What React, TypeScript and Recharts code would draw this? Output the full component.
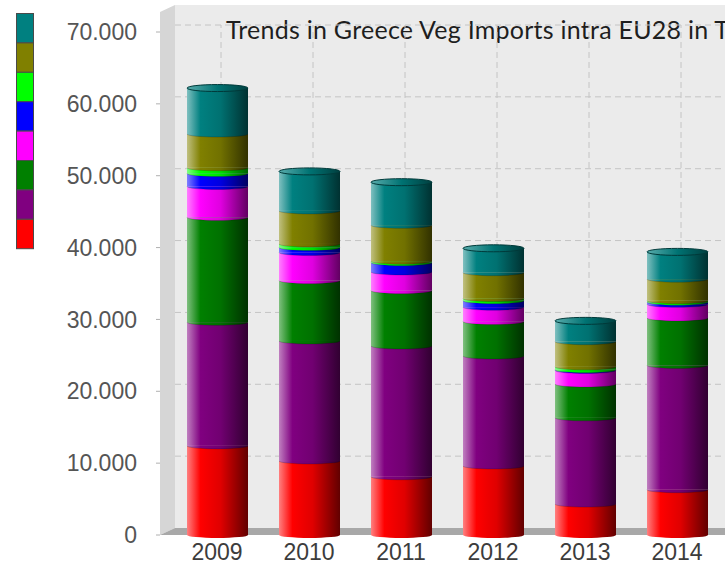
import { BarChart, Bar, XAxis, YAxis, ReferenceLine } from "recharts"

const YEARS = ["2009", "2010", "2011", "2012", "2013", "2014"]

// stacked from the floor up
const RED = [12400, 10300, 8100, 9600, 4300, 6300]
const PURPLE = [17200, 16700, 18200, 15300, 12000, 17300]
const GREEN = [14600, 8400, 7700, 4800, 4700, 6600]
const MAGENTA = [4300, 3900, 2600, 2000, 1900, 1900]
const BLUE = [1800, 700, 1300, 900, 100, 300]
const LIME = [800, 500, 200, 300, 400, 200]
const OLIVE = [4700, 4600, 5000, 3600, 3500, 3000]
const TEAL = [6400, 5500, 6000, 3400, 2900, 3800]

const Y_TICKS = [0, 10000, 20000, 30000, 40000, 50000, 60000, 70000]

const TITLE = "Trends in Greece Veg Imports intra EU28 in Tonnes"

const SERIES = [
  { key: "red", values: RED, color: "#ff0000" },
  { key: "purple", values: PURPLE, color: "#800080" },
  { key: "green", values: GREEN, color: "#008000" },
  { key: "magenta", values: MAGENTA, color: "#ff00ff" },
  { key: "blue", values: BLUE, color: "#0000ff" },
  { key: "lime", values: LIME, color: "#00ff00" },
  { key: "olive", values: OLIVE, color: "#808000" },
  { key: "teal", values: TEAL, color: "#008080" },
]

const data = YEARS.map((year, i) => {
  const row: Record<string, string | number> = { year }
  SERIES.forEach((s) => (row[s.key] = s.values[i]))
  return row
})

const AXIS_FONT = "'Liberation Sans', Arial, sans-serif"

function mix(hex: string, target: number, t: number) {
  const n = parseInt(hex.slice(1), 16)
  const c = [(n >> 16) & 255, (n >> 8) & 255, n & 255].map((v) => Math.round(v + (target - v) * t))
  return `rgb(${c[0]},${c[1]},${c[2]})`
}

function cylinder(key: string, color: string, isTop: boolean, isBottom: boolean) {
  return (p: any) => {
    const { x, y, width: w, height: h } = p
    if (!h || h <= 0) return <g />
    const rx = w / 2
    const ry = 3
    const cx = x + w / 2
    return (
      <g>
        <rect x={x} y={y} width={w} height={h} fill={`url(#g-${key})`} />
        <path
          d={`M${x},${y + h} A${rx},${ry} 0 0 0 ${x + w},${y + h} Z`}
          fill={`url(#g-${key})`}
        />
        {!isBottom && (
          <path
            d={`M${x},${y + h} A${rx},${ry} 0 0 0 ${x + w},${y + h}`}
            fill="none"
            stroke="rgba(0,0,0,0.18)"
          />
        )}
        {isTop && (
          <ellipse
            cx={cx}
            cy={y}
            rx={rx}
            ry={ry + 0.5}
            fill={`url(#c-${key})`}
            stroke={mix(color, 0, 0.55)}
            strokeWidth={1}
          />
        )}
      </g>
    )
  }
}

export default function App() {
  return (
    <div
      style={{
        position: "absolute",
        left: 0,
        top: 0,
        width: 725,
        height: 571,
        overflow: "hidden",
        background: "#fff",
      }}
    >
      <svg width={725} height={571} style={{ position: "absolute", left: 0, top: 0 }}>
        {/* back wall, side wall, floor */}
        <rect x={175} y={5} width={560} height={523} fill="#ebebeb" />
        <polygon points="160,12 175,5 175,528 160,535" fill="#d6d6d6" />
        <polygon points="160,535 175,528 735,528 735,535" fill="#a8a8a8" />
        <text
          x={226}
          y={39}
          fontFamily="Lato, 'Open Sans', sans-serif"
          fontSize={25}
          letterSpacing={0.25}
          fill="#1e1e1e"
        >
          {TITLE}
        </text>
        {/* legend swatches */}
        {[...SERIES].reverse().map((s, i) => (
          <rect
            key={s.key}
            x={16.5}
            y={13.5 + i * 29.4}
            width={17}
            height={29.4}
            fill={s.color}
            stroke="#4a4a4a"
            strokeWidth={1}
          />
        ))}
      </svg>
      <div style={{ position: "absolute", left: 0, top: 0 }}>
        <BarChart
          width={900}
          height={571}
          data={data}
          margin={{ top: 32, right: 0, bottom: 0, left: 0 }}
          barSize={61}
        >
          <defs>
            {SERIES.map((s) => (
              <linearGradient key={s.key} id={`g-${s.key}`} x1="0" y1="0" x2="1" y2="0">
                <stop offset="0%" stopColor={mix(s.color, 255, 0.5)} />
                <stop offset="22%" stopColor={s.color} />
                <stop offset="55%" stopColor={mix(s.color, 0, 0.12)} />
                <stop offset="100%" stopColor={mix(s.color, 0, 0.62)} />
              </linearGradient>
            ))}
            {SERIES.map((s) => (
              <linearGradient key={s.key} id={`c-${s.key}`} x1="0" y1="0" x2="1" y2="0">
                <stop offset="0%" stopColor={mix(s.color, 255, 0.35)} />
                <stop offset="50%" stopColor={mix(s.color, 0, 0.1)} />
                <stop offset="100%" stopColor={mix(s.color, 0, 0.5)} />
              </linearGradient>
            ))}
          </defs>
          {Y_TICKS.filter((v) => v > 0).map((v) => (
            <ReferenceLine
              key={`h${v}`}
              y={v}
              ifOverflow="visible"
              zIndex={-100}
              shape={(p: any) => (
                <line
                  x1={p.x1 + 15}
                  y1={p.y1 - 7}
                  x2={p.x2 + 15}
                  y2={p.y2 - 7}
                  stroke="#c4c4c4"
                  strokeDasharray="6 4"
                />
              )}
            />
          ))}
          {YEARS.map((yr) => (
            <ReferenceLine
              key={`v${yr}`}
              x={yr}
              ifOverflow="visible"
              zIndex={-100}
              shape={(p: any) => (
                <line
                  x1={p.x1 + 4}
                  y1={p.y1 - 27}
                  x2={p.x2 + 4}
                  y2={p.y2 - 7}
                  stroke="#c4c4c4"
                  strokeDasharray="6 4"
                />
              )}
            />
          ))}
          <XAxis
            dataKey="year"
            height={36}
            padding={{ left: 11, right: 177 }}
            axisLine={false}
            tickLine={false}
            tickSize={0}
            tickMargin={9}
            interval={0}
            tick={{ fill: "#3c3c3c", fontSize: 23, fontFamily: AXIS_FONT }}
          />
          <YAxis
            width={160}
            domain={[0, 70000]}
            ticks={Y_TICKS}
            axisLine={false}
            tickSize={4}
            tickMargin={19}
            tickLine={{ stroke: "#b0b0b0" }}
            tickFormatter={(v: number) => v.toLocaleString("de-DE")}
            tick={{ fill: "#555", fontSize: 23, fontFamily: AXIS_FONT }}
          />
          {SERIES.map((s, i) => (
            <Bar
              key={s.key}
              dataKey={s.key}
              stackId="a"
              fill={s.color}
              isAnimationActive={false}
              shape={cylinder(s.key, s.color, i === SERIES.length - 1, i === 0)}
            />
          ))}
        </BarChart>
      </div>
    </div>
  )
}
